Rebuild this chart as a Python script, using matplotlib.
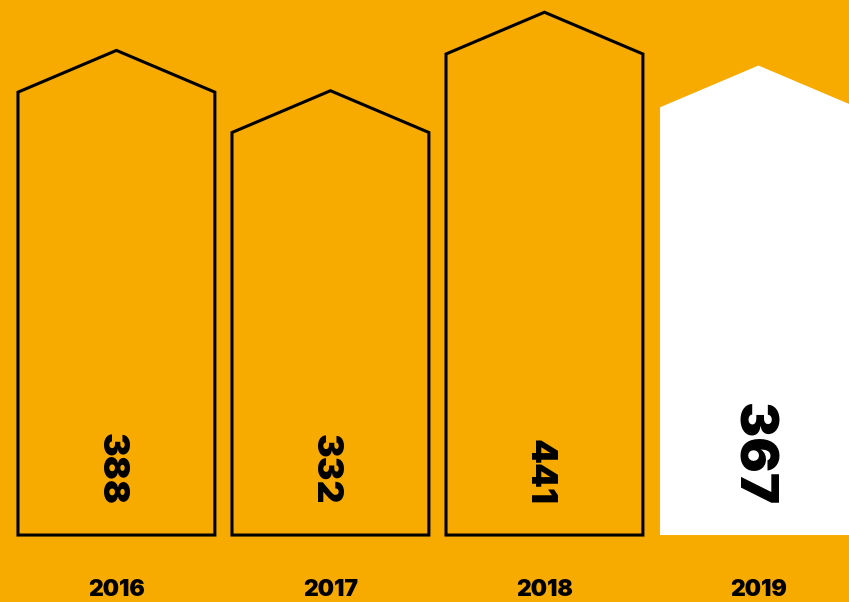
import matplotlib
matplotlib.use("Agg")
import matplotlib.pyplot as plt
from matplotlib.patches import Polygon
from matplotlib.transforms import offset_copy

# Data
years = ["2016", "2017", "2018", "2019"]
counts = [388, 332, 441, 367]
highlight = "2019"

# Style
BG = "#F7AA00"
INK = "#000000"
plt.rcParams["font.family"] = ["Inter", "DejaVu Sans"]

BASE = -227.0        # value level where the houses stand
ROOF = 58.0          # height of the gabled roof above the value level
WIDTH = 0.92         # house width in category units
LABEL_PAD = 42.0     # distance of the value label's end from the base

fig = plt.figure(figsize=(8.49, 6.02), dpi=100, facecolor=BG)
ax = fig.add_axes([0, 0, 1, 1])
ax.set_facecolor(BG)
ax.set_xlim(-0.544, 3.423)
ax.set_ylim(-320, 516)
ax.axis("off")

for i, (yr, v) in enumerate(zip(years, counts)):
    x0, x1 = i - WIDTH / 2, i + WIDTH / 2
    pts = [(x0, BASE), (x0, v), (i, v + ROOF), (x1, v), (x1, BASE)]
    if yr == highlight:
        ax.add_patch(Polygon(pts, closed=True, facecolor="white",
                             edgecolor="none", zorder=2))
        size, shift = 38, -7
    else:
        ax.add_patch(Polygon(pts, closed=True, facecolor="none",
                             edgecolor=INK, linewidth=2.2,
                             joinstyle="miter", zorder=2))
        size, shift = 25.5, -5
    tr = offset_copy(ax.transData, fig=fig, x=shift, y=0, units="dots")
    ax.text(i, BASE + LABEL_PAD, str(v), rotation=-90, rotation_mode="anchor",
            ha="right", va="center", fontsize=size, fontweight="black",
            color=INK, zorder=3, transform=tr)
    ax.text(i, -303, yr, ha="center", va="center", fontsize=16.5,
            fontweight="black", color=INK)

fig.savefig("out.png", dpi=100, facecolor=BG)
